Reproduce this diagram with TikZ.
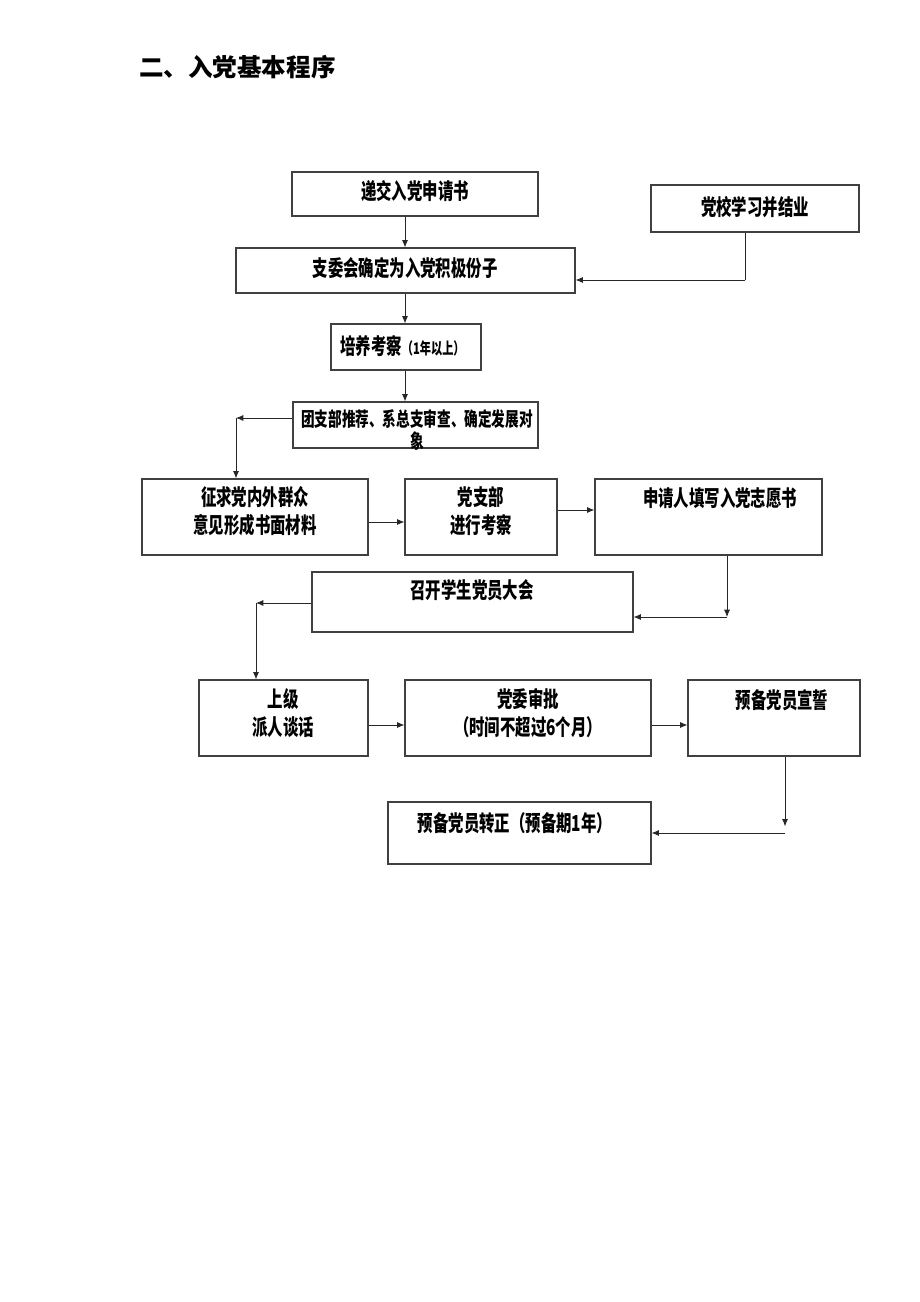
\documentclass[tikz,border=0pt]{standalone}
\usepackage{fontspec}
\newfontfamily\cjk{Noto Sans CJK SC}[FakeStretch=0.7]
\newfontfamily\cjktitle{Noto Sans CJK SC}
\usetikzlibrary{arrows.meta,fit}
\begin{document}
\begin{tikzpicture}[x=0.75pt,y=-0.75pt,
  box/.style={draw=black!75,line width=0.9pt,inner sep=0pt,rectangle},
  txt/.style={inner sep=0pt,align=center,font=\cjk\bfseries\fontsize{16.5pt}{21pt}\selectfont},
  small/.style={font=\cjk\bfseries\fontsize{14.6pt}{16.5pt}\selectfont},
  arr/.style={draw=black!85,line width=0.6pt,-{Latex[length=5.5pt,width=4.5pt]}},
  ln/.style={draw=black!85,line width=0.6pt}]
\useasboundingbox[fill=white] (0,0) rectangle (920,1302);

% title
\node[anchor=west,inner sep=0pt,font=\cjktitle\bfseries\fontsize{18.4pt}{22pt}\selectfont] (title) at (139,67) {二、入党基本程序};

% boxes
\node[box,fit={(292,172) (538,216)}] (b1) {};
\node[box,fit={(651,185) (859,232)}] (bp) {};
\node[box,fit={(236,248) (575,293)}] (b2) {};
\node[box,fit={(331,324) (481,370)}] (b3) {};
\node[box,fit={(293,402) (538,448)}] (b4) {};
\node[box,fit={(142,479) (368,555)}] (b5) {};
\node[box,fit={(405,479) (557,555)}] (b6) {};
\node[box,fit={(595,479) (822,555)}] (b7) {};
\node[box,fit={(312,572) (633,632)}] (b8) {};
\node[box,fit={(199,680) (368,756)}] (b9) {};
\node[box,fit={(405,680) (651,756)}] (b10) {};
\node[box,fit={(688,680) (860,756)}] (b11) {};
\node[box,fit={(388,802) (651,864)}] (b12) {};

% texts
\node[txt] (t1) at (415,191) {递交入党申请书};
\node[txt] (tp) at (755,207) {党校学习并结业};
\node[txt] (t2) at (405,268) {支委会确定为入党积极份子};
\node[txt,anchor=west] (t3) at (340,346) {培养考察{\fontsize{12pt}{14pt}\selectfont（1年以上）}};
\node[txt,small] (t4) at (417,430) {团支部推荐、系总支审查、确定发展对\\象};
\node[txt,font=\cjk\bfseries\fontsize{16.5pt}{21pt}\selectfont] (t5) at (255,511) {征求党内外群众\\意见形成书面材料};
\node[txt,font=\cjk\bfseries\fontsize{16.5pt}{21pt}\selectfont] (t6) at (481,511) {党支部\\进行考察};
\node[txt] (t7) at (720,498) {申请人填写入党志愿书};
\node[txt] (t8) at (472,590) {召开学生党员大会};
\node[txt,font=\cjk\bfseries\fontsize{16.5pt}{21pt}\selectfont] (t9) at (283,713) {上级\\派人谈话};
\node[txt,font=\cjk\bfseries\fontsize{16.5pt}{21pt}\selectfont] (t10) at (528,713) {党委审批\\（时间不超过6个月）};
\node[txt] (t11) at (782,700) {预备党员宣誓};
\node[txt] (t12) at (515,823) {预备党员转正（预备期1年）};

% helper coordinates
\coordinate (v1) at (405,0);
\coordinate (k1) at (745,280);
\coordinate (k2) at (236,418);
\coordinate (k3) at (0,522);
\coordinate (k4) at (0,510);
\coordinate (k5) at (727,617);
\coordinate (k6) at (256,603);
\coordinate (k8) at (0,725);
\coordinate (k7) at (785,833);

% connectors
\draw[arr] (b1.south -| v1) -- (b2.north -| v1);
\draw[arr] (b2.south -| v1) -- (b3.north -| v1);
\draw[arr] (b3.south -| v1) -- (b4.north -| v1);
\draw[ln] (bp.south -| k1) -- (k1);
\draw[arr] (k1) -- (b2.east |- k1);
\draw[arr] (b4.west |- k2) -- (k2);
\draw[arr] (k2) -- (b5.north -| k2);
\draw[arr] (b5.east |- k3) -- (b6.west |- k3);
\draw[arr] (b6.east |- k4) -- (b7.west |- k4);
\draw[arr] (b7.south -| k5) -- (k5);
\draw[arr] (k5) -- (b8.east |- k5);
\draw[arr] (b8.west |- k6) -- (k6);
\draw[arr] (k6) -- (b9.north -| k6);
\draw[arr] (b9.east |- k8) -- (b10.west |- k8);
\draw[arr] (b10.east |- k8) -- (b11.west |- k8);
\draw[arr] (b11.south -| k7) -- ([yshift=5]k7);
\draw[arr] (k7) -- (b12.east |- k7);
\end{tikzpicture}
\end{document}
